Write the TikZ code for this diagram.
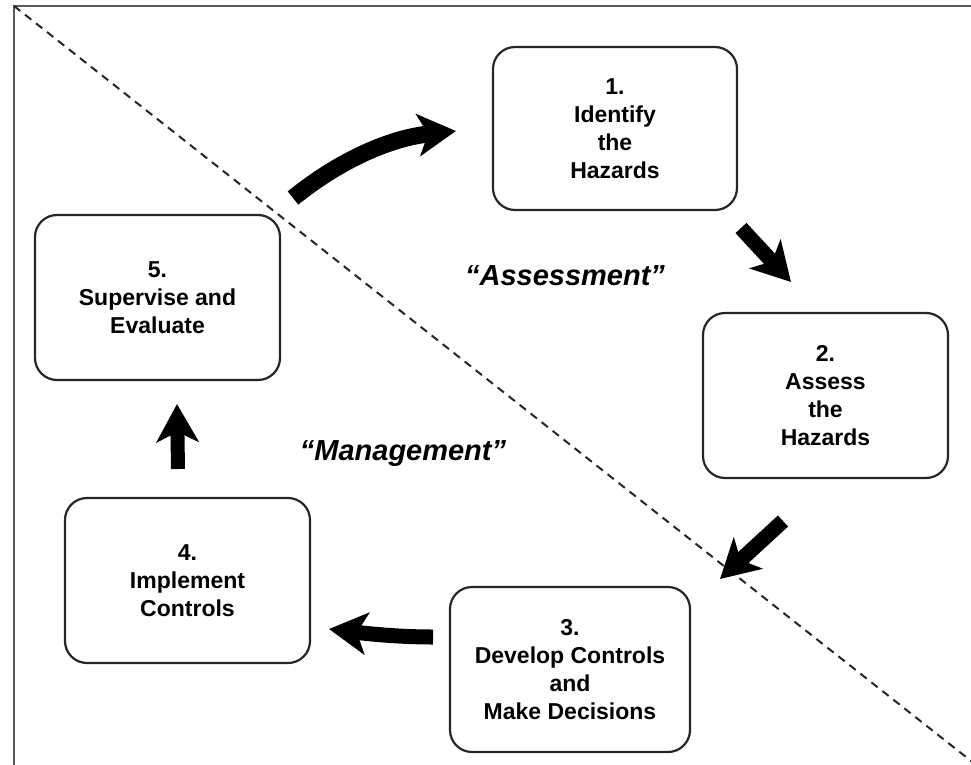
\documentclass[tikz,border=0pt]{standalone}
\usepackage{fontspec}
\setmainfont{Liberation Sans}
\usetikzlibrary{arrows.meta}
\tikzset{
  stepbox/.style={draw=black!85, line width=2.2pt, rounded corners=22pt,
    minimum width=245pt, minimum height=165pt, inner sep=0pt, align=center,
    font=\bfseries\fontsize{23}{28}\selectfont},
  phase/.style={font=\bfseries\itshape\fontsize{29}{34}\selectfont},
  bigarrow/.style={line width=15pt, black,
    -{Stealth[length=38pt, width=42pt, inset=10pt]}},
}
\begin{document}
\begin{tikzpicture}[x=1pt, y=-1pt]
\useasboundingbox (0,0) rectangle (971,765);
\clip (0,0) rectangle (971,765);
% frame
\draw[black!65, line width=2.6pt] (14,6) rectangle (995,795);
% diagonal
\draw[black!85, line width=2pt, dash pattern=on 8pt off 6pt] (14,6) -- (980,768);
% boxes
\node[stepbox, minimum width=244pt, minimum height=163pt] (n1) at (615,128.5) {1.\\Identify\\the\\Hazards};
\node[stepbox] (n2) at (825.5,395.5) {2.\\Assess\\the\\Hazards};
\node[stepbox, minimum width=240pt] (n3) at (570,669.5) {3.\\Develop Controls\\and\\Make Decisions};
\node[stepbox] (n4) at (187.5,580.5) {4.\\Implement\\Controls};
\node[stepbox] (n5) at (157.5,297.5) {5.\\Supervise and\\Evaluate};
% phase labels
\node[phase] (assess) at (565,276) {“Assessment”};
\node[phase] (manage) at (403,454) {“Management”};
% arrow end points
\coordinate (a5) at (293,198);
\coordinate (b1) at (456,131);
\coordinate (a1) at (741,228);
\coordinate (b2) at (791,282);
\coordinate (a2) at (783,521);
\coordinate (b3) at (720,579);
\coordinate (a3) at (433,637);
\coordinate (b4) at (329,629);
\coordinate (a4) at (178,469);
\coordinate (b5) at (177,404);
% arrows
\draw[bigarrow, line width=17pt] (a5) .. controls (340,160) and (390,138) .. (b1);
\draw[bigarrow] (a1) -- (b2);
\draw[bigarrow] (a2) -- (b3);
\draw[bigarrow] (a3) .. controls (400,637) and (370,634) .. (b4);
\draw[bigarrow, line width=14pt] (a4) -- (b5);
\end{tikzpicture}
\end{document}
